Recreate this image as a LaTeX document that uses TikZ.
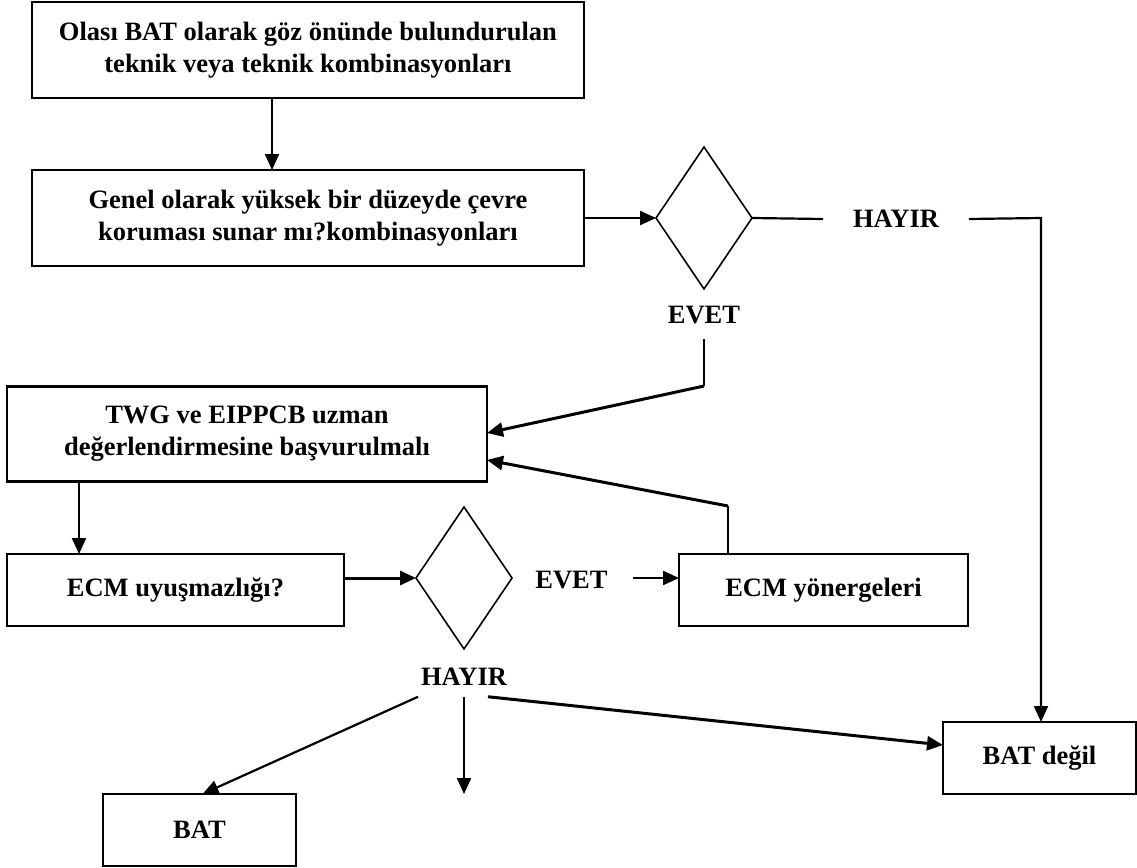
\documentclass[tikz,border=0pt]{standalone}
\usepackage{fontspec}
\setmainfont{Liberation Serif}
\usetikzlibrary{arrows.meta,shapes.geometric}

\begin{document}
\begin{tikzpicture}[
  x=1pt, y=-1pt,
  font=\fontsize{26.5}{32}\selectfont\bfseries,
  box/.style={draw, line width=2.2pt, inner sep=0pt, outer sep=0pt, align=center},
  decision/.style={draw, diamond, line width=1.6pt, inner sep=0pt, outer sep=0pt,
                   minimum width=96pt, minimum height=142pt},
  lbl/.style={inner sep=0pt, outer sep=0pt},
  tip/.style={-{Triangle[length=16pt,width=14pt]}},
  arr/.style={tip, line width=2.2pt},
  arrthick/.style={tip, line width=3pt},
  plain/.style={line width=2.2pt}
]
\useasboundingbox (0,0) rectangle (1137,867);

% process boxes
\node[box, minimum width=552pt, minimum height=96pt] (cand) at (308,50)
  {Olası BAT olarak göz önünde bulundurulan\\teknik veya teknik kombinasyonları};
\node[box, minimum width=552pt, minimum height=96pt] (prot) at (308,218)
  {Genel olarak yüksek bir düzeyde çevre\\koruması sunar mı?kombinasyonları};
\node[box, minimum width=480pt, minimum height=95pt] (twg) at (247,434)
  {TWG ve EIPPCB uzman\\değerlendirmesine başvurulmalı};
\node[box, minimum width=337pt, minimum height=72pt] (ecm) at (175.5,590)
  {ECM uyuşmazlığı?};
\node[box, minimum width=289pt, minimum height=72pt] (guide) at (823.5,590)
  {ECM yönergeleri};
\node[box, minimum width=193pt, minimum height=72pt] (bat) at (199.5,830)
  {BAT};
\node[box, minimum width=193pt, minimum height=72pt] (notbat) at (1039.5,758)
  {BAT değil};

% decisions
\node[decision] (d1) at (704,218) {};
\node[decision] (d2) at (464,578) {};

% answer labels
\node[lbl, inner xsep=30pt] (no1) at (896,219) {HAYIR};
\node[lbl, inner ysep=15pt] (yes1) at (704,315) {EVET};
\node[lbl, inner xsep=25pt] (yes2) at (571.5,580) {EVET};
\node[lbl, inner ysep=11pt] (no2) at (464,677) {HAYIR};

% bend points and free end
\coordinate (yesturn) at (704,386);
\coordinate (guideturn) at (728,506);
\coordinate (noturn) at (1041,218);
\coordinate (openend) at (464,794);

% connectors
\draw[arr] ([xshift=-36pt]cand.south) -- ([xshift=-36pt]prot.north);
\draw[arr] (prot.east) -- (d1.west);
\draw[plain] (d1.east) -- (no1.west);
\draw[arr] (no1.east) -- (noturn) -- (noturn |- notbat.north);
\draw[plain] (yes1.south) -- (yesturn);
\draw[arrthick] (yesturn) -- ([yshift=1pt]twg.east);
\draw[plain] ([xshift=49pt]guide.north west) -- (guideturn);
\draw[arrthick] (guideturn) -- ([yshift=-26pt]twg.east);
\draw[arr] ([xshift=72pt]twg.south west) -- ([xshift=72pt]ecm.north west);
\draw[arrthick] (ecm.east |- d2.west) -- (d2.west);
\draw[arr] (yes2.east |- d2.east) -- (guide.west |- d2.east);
\draw[arr] ([xshift=-3pt]no2.south west) -- ([xshift=3pt]bat.north);
\draw[arr] (no2.south) -- (openend);
\draw[arrthick] ([xshift=24pt]no2.south) -- ([yshift=13pt]notbat.west);
\end{tikzpicture}
\end{document}
